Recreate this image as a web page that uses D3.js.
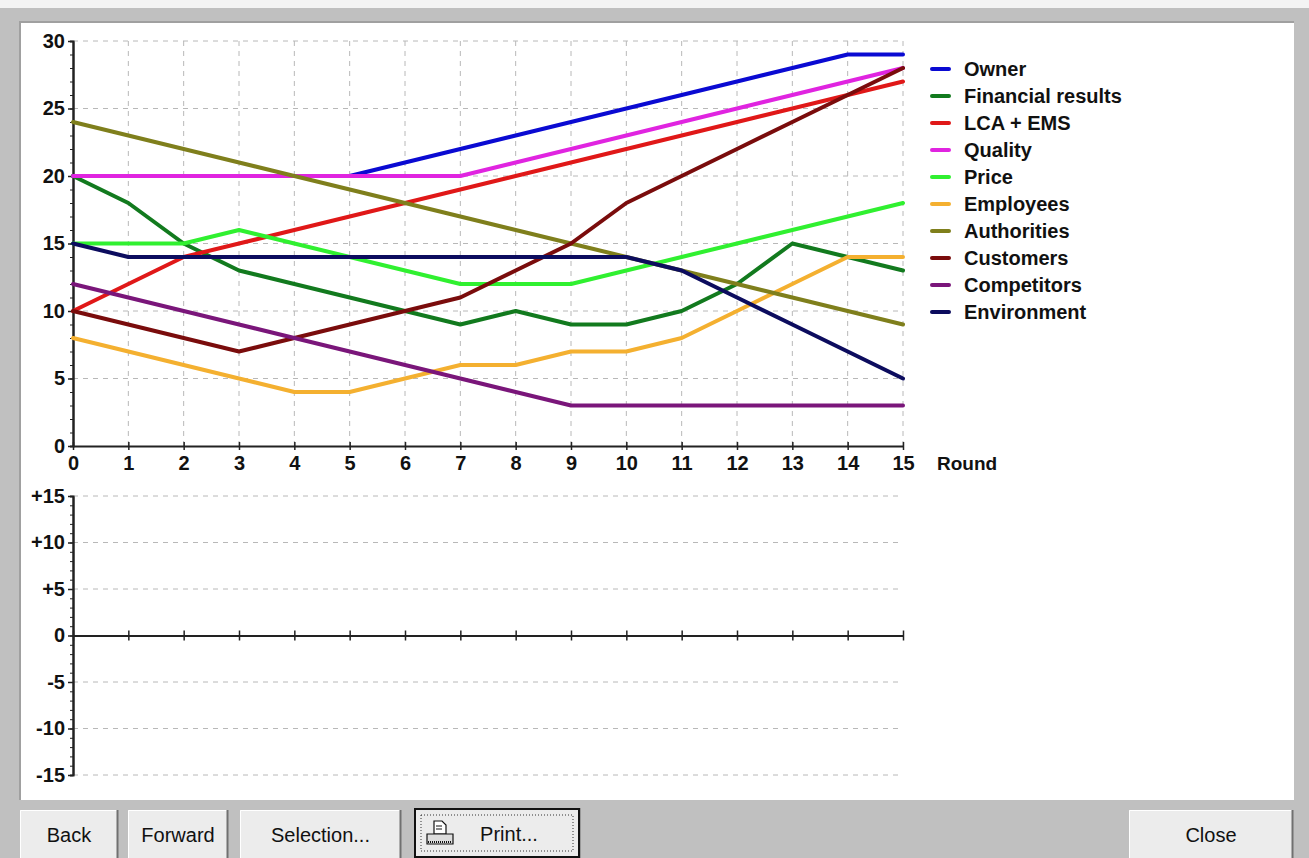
<!DOCTYPE html>
<html><head><meta charset="utf-8">
<script src="https://cdn.jsdelivr.net/npm/d3@7"></script>
<style>
html,body{margin:0;padding:0;background:#c0c0c0;overflow:hidden}
svg{display:block}
</style></head>
<body>
<svg id="c" width="1309" height="858"></svg>
<script>
// ---- data ----
const rounds = [0,1,2,3,4,5,6,7,8,9,10,11,12,13,14,15];
const seriesNames = ["Owner","Financial results","LCA + EMS","Quality","Price","Employees","Authorities","Customers","Competitors","Environment"];
const seriesColors = ["#0a0ad2","#127a1e","#e01818","#e024e0","#30f030","#f4b030","#7f7f1c","#7a0c0c","#7a167a","#0c0c5e"];
const owner       = [20,20,20,20,20,20,21,22,23,24,25,26,27,28,29,29];
const financial   = [20,18,15,13,12,11,10,9,10,9,9,10,12,15,14,13];
const lcaEms      = [10,12,14,15,16,17,18,19,20,21,22,23,24,25,26,27];
const quality     = [20,20,20,20,20,20,20,20,21,22,23,24,25,26,27,28];
const price       = [15,15,15,16,15,14,13,12,12,12,13,14,15,16,17,18];
const employees   = [8,7,6,5,4,4,5,6,6,7,7,8,10,12,14,14];
const authorities = [24,23,22,21,20,19,18,17,16,15,14,13,12,11,10,9];
const customers   = [10,9,8,7,8,9,10,11,13,15,18,20,22,24,26,28];
const competitors = [12,11,10,9,8,7,6,5,4,3,3,3,3,3,3,3];
const environment = [15,14,14,14,14,14,14,14,14,14,14,13,11,9,7,5];
const seriesValues = [owner,financial,lcaEms,quality,price,employees,authorities,customers,competitors,environment];
const topTicks = [0,5,10,15,20,25,30];
const bottomTicks = [-15,-10,-5,0,5,10,15];
const bottomTickLabels = ["-15","-10","-5","0","+5","+10","+15"];
const xLabel = "Round";
const buttons = ["Back","Forward","Selection...","Print...","Close"];

const svg = d3.select("#c");
// frame
svg.append("rect").attr("x",0).attr("y",0).attr("width",1309).attr("height",858).attr("fill","#c0c0c0");
svg.append("rect").attr("x",0).attr("y",0).attr("width",1309).attr("height",8).attr("fill","#f4f4f4");
svg.append("rect").attr("x",20).attr("y",22).attr("width",1274).attr("height",778).attr("fill","#ffffff");
svg.append("path").attr("d","M20,800 V22 H1294").attr("fill","none").attr("stroke","#a0a0a0").attr("stroke-width",2);

const x = d3.scaleLinear().domain([0,15]).range([73,903]);
const yT = d3.scaleLinear().domain([0,30]).range([446,41]);
const yB = d3.scaleLinear().domain([-15,15]).range([775,496]);

const gridCol = "#b8b8b8";
const tickFont = "bold 20px 'Liberation Sans', Arial, sans-serif";

// --- top grid ---
const gTop = svg.append("g");
gTop.selectAll("line.h").data(topTicks.filter(d=>d>0)).join("line")
  .attr("x1",x(0)).attr("x2",x(15)).attr("y1",d=>yT(d)).attr("y2",d=>yT(d))
  .attr("stroke",gridCol).attr("stroke-dasharray","5,5");
gTop.selectAll("line.v").data(rounds.filter(d=>d>0)).join("line")
  .attr("x1",d=>x(d)).attr("x2",d=>x(d)).attr("y1",yT(0)).attr("y2",yT(30))
  .attr("stroke",gridCol).attr("stroke-dasharray","5,5");

// --- bottom grid ---
svg.append("g").selectAll("line").data(bottomTicks.filter(d=>d!==0)).join("line")
  .attr("x1",x(0)).attr("x2",x(15)).attr("y1",d=>yB(d)).attr("y2",d=>yB(d))
  .attr("stroke",gridCol).attr("stroke-dasharray","5,5");

// --- axes ---
function styleAxis(g){
  g.select(".domain").attr("stroke","#222").attr("stroke-width",2);
  g.selectAll(".tick line").attr("stroke","#222").attr("stroke-width",1.5);
  g.selectAll(".tick text").style("font",tickFont).attr("fill","#111");
}
// top y minor
svg.append("g").attr("transform",`translate(${x(0)},0)`)
  .call(d3.axisLeft(yT).tickValues(d3.range(0,31)).tickSize(3).tickFormat(""))
  .call(g=>{g.select(".domain").attr("stroke","#222").attr("stroke-width",2);g.selectAll(".tick line").attr("stroke","#222");});
svg.append("g").attr("transform",`translate(${x(0)},0)`)
  .call(d3.axisLeft(yT).tickValues(topTicks).tickSize(5).tickSizeOuter(0).tickPadding(3))
  .call(styleAxis);
// top x axis
svg.append("g").attr("transform",`translate(0,${yT(0)})`)
  .call(d3.axisBottom(x).tickValues(rounds).tickSize(4).tickSizeOuter(0).tickPadding(3))
  .call(styleAxis)
  .call(g=>g.selectAll(".tick line").attr("y1",-4))
  .call(g=>g.selectAll(".tick text").attr("dy","0.85em"));
svg.append("text").attr("x",x(15)+34).attr("y",yT(0)+24).text(xLabel)
  .style("font","bold 19px 'Liberation Sans', Arial, sans-serif").attr("fill","#111");

// bottom y
svg.append("g").attr("transform",`translate(${x(0)},0)`)
  .call(d3.axisLeft(yB).tickValues(d3.range(-15,16)).tickSize(3).tickFormat(""))
  .call(g=>{g.select(".domain").attr("stroke","#222").attr("stroke-width",2);g.selectAll(".tick line").attr("stroke","#222");});
svg.append("g").attr("transform",`translate(${x(0)},0)`)
  .call(d3.axisLeft(yB).tickValues(bottomTicks).tickSize(5).tickSizeOuter(0).tickPadding(3)
    .tickFormat((d,i)=>bottomTickLabels[i]))
  .call(styleAxis);
// zero line
svg.append("g").attr("transform",`translate(0,${yB(0)})`)
  .call(d3.axisBottom(x).tickValues(rounds).tickSize(5).tickSizeOuter(0).tickFormat(""))
  .call(styleAxis)
  .call(g=>g.selectAll(".tick line").attr("y1",-5));

// --- lines ---
const line = d3.line().x((d,i)=>x(rounds[i])).y(d=>yT(d));
svg.append("g").selectAll("path").data(seriesValues).join("path")
  .attr("d",line).attr("fill","none")
  .attr("stroke",(d,i)=>seriesColors[i]).attr("stroke-width",4)
  .attr("stroke-linejoin","round").attr("stroke-linecap","round");

// --- legend ---
const lg = svg.append("g").attr("transform","translate(930,69)");
const li = lg.selectAll("g").data(seriesNames).join("g").attr("transform",(d,i)=>`translate(0,${i*27})`);
li.append("line").attr("x1",2).attr("x2",19).attr("y1",0).attr("y2",0)
  .attr("stroke",(d,i)=>seriesColors[i]).attr("stroke-width",4).attr("stroke-linecap","round");
li.append("text").attr("x",34).attr("y",7).text(d=>d)
  .style("font","bold 20px 'Liberation Sans', Arial, sans-serif").attr("fill","#111");

// --- buttons ---
const btnBoxes = [[20,810,98],[128,810,100],[240,810,161],[414,808,166],[1129,810,164]];
const bf = "20px 'Liberation Sans', Arial, sans-serif";
buttons.forEach((label,i)=>{
  const [bx,by,bw] = btnBoxes[i];
  const bh = 858-by;
  const g = svg.append("g");
  g.append("rect").attr("x",bx).attr("y",by).attr("width",bw).attr("height",bh).attr("fill","#ececec");
  g.append("path").attr("d",`M${bx+0.5},${by+bh} V${by+0.5} H${bx+bw}`).attr("stroke","#ffffff").attr("fill","none");
  g.append("path").attr("d",`M${bx+bw-0.5},${by} V${by+bh}`).attr("stroke","#707070").attr("stroke-width",2).attr("fill","none");
  if(label==="Print..."){
    g.append("rect").attr("x",bx+1).attr("y",by+1).attr("width",bw-2).attr("height",bh-2).attr("fill","none").attr("stroke","#111").attr("stroke-width",2);
    g.append("rect").attr("x",bx+7).attr("y",by+7).attr("width",bw-14).attr("height",bh-14).attr("fill","none").attr("stroke","#333").attr("stroke-dasharray","1,2");
    // printer icon
    const ix=bx+12, iy=by+12;
    g.append("path").attr("d",`M${ix+8},${iy+1} h8 l4,4 v9 h-12 z`).attr("fill","#fff").attr("stroke","#111").attr("stroke-width",1.2);
    g.append("path").attr("d",`M${ix+10},${iy+6} h6 M${ix+10},${iy+9} h6`).attr("stroke","#111").attr("stroke-width",1);
    g.append("path").attr("d",`M${ix+1},${iy+14} h26 v10 h-26 z`).attr("fill","#ddd").attr("stroke","#111").attr("stroke-width",1.2);
    g.append("path").attr("d",`M${ix+2},${iy+22} h24`).attr("stroke","#111").attr("stroke-width",2).attr("stroke-dasharray","1,1");
    g.append("text").attr("x",bx+bw/2+12).attr("y",by+bh/2+8).attr("text-anchor","middle").text(label).style("font",bf).attr("fill","#111");
  } else {
    g.append("text").attr("x",bx+bw/2).attr("y",by+bh/2+8).attr("text-anchor","middle").text(label).style("font",bf).attr("fill","#111");
  }
});
</script>
</body></html>
